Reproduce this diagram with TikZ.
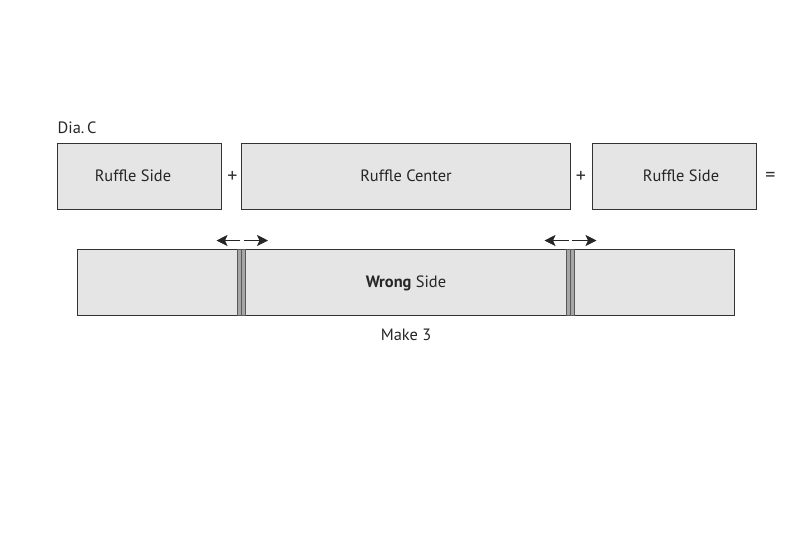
\documentclass[tikz,border=0pt]{standalone}
\usepackage{fontspec}
\setmainfont{PT Sans}
\usepackage{tikz}
\usetikzlibrary{arrows.meta}
\tikzset{
	panel/.style={draw=black!80,fill=black!10,line width=0.9pt,inner sep=0pt},
	seam/.style={draw=black!65,fill=black!35,line width=0.7pt,inner sep=0pt,minimum width=4.2pt,minimum height=66pt},
	lbl/.style={font=\fontsize{16.4}{19}\selectfont,text=black!85,inner sep=0pt},
	sign/.style={font=\fontsize{20}{22}\selectfont,text=black!80,inner sep=0pt},
	pull/.style={-{Stealth[length=11pt,width=11pt,inset=2.5pt]},line width=0.8pt,black!85}
}
\begin{document}
\begin{tikzpicture}[x=1pt,y=-1pt]
	\useasboundingbox (0,0) rectangle (800,542);
	% top row
	\node[panel,minimum width=164pt,minimum height=66pt] (sideL) at (139.7,176) {};
	\node[panel,minimum width=329pt,minimum height=66pt] (center) at (406,176) {};
	\node[panel,minimum width=164pt,minimum height=66pt] (sideR) at (674.8,176) {};
	\node[lbl] (textL) at (133,175.8) {Ruffle Side};
	\node[lbl] (textC) at (406,175.8) {Ruffle Center};
	\node[lbl] (textR) at (681,175.8) {Ruffle Side};
	\node[lbl,anchor=west] (title) at (57.5,127.6) {Dia.\,C};
	\node[sign] (plusA) at (232.5,176.5) {+};
	\node[sign] (plusB) at (581,176.5) {+};
	\node[sign] (equals) at (770.5,176.5) {=};
	% joined strip
	\node[panel,minimum width=656.5pt,minimum height=66pt] (strip) at (405.8,282.5) {};
	\node[lbl] (wrong) at (406,283) {\textbf{Wrong} Side};
	\node[lbl] (make) at (406,334.6) {Make 3};
	\node[seam] (seamA1) at (239.6,282.5) {};
	\node[seam] (seamA2) at (243.6,282.5) {};
	\node[seam] (seamB1) at (568.7,282.5) {};
	\node[seam] (seamB2) at (572.5,282.5) {};
	% pressing arrows
	\coordinate (a0) at (240,240.5);
	\coordinate (a1) at (216.5,240.5);
	\coordinate (b0) at (243.7,240.5);
	\coordinate (b1) at (268,240.5);
	\coordinate (c0) at (568.7,240.5);
	\coordinate (c1) at (544.5,240.5);
	\coordinate (d0) at (571.7,240.5);
	\coordinate (d1) at (596.5,240.5);
	\draw[pull](a0)--(a1);
	\draw[pull](b0)--(b1);
	\draw[pull](c0)--(c1);
	\draw[pull](d0)--(d1);
\end{tikzpicture}
\end{document}
